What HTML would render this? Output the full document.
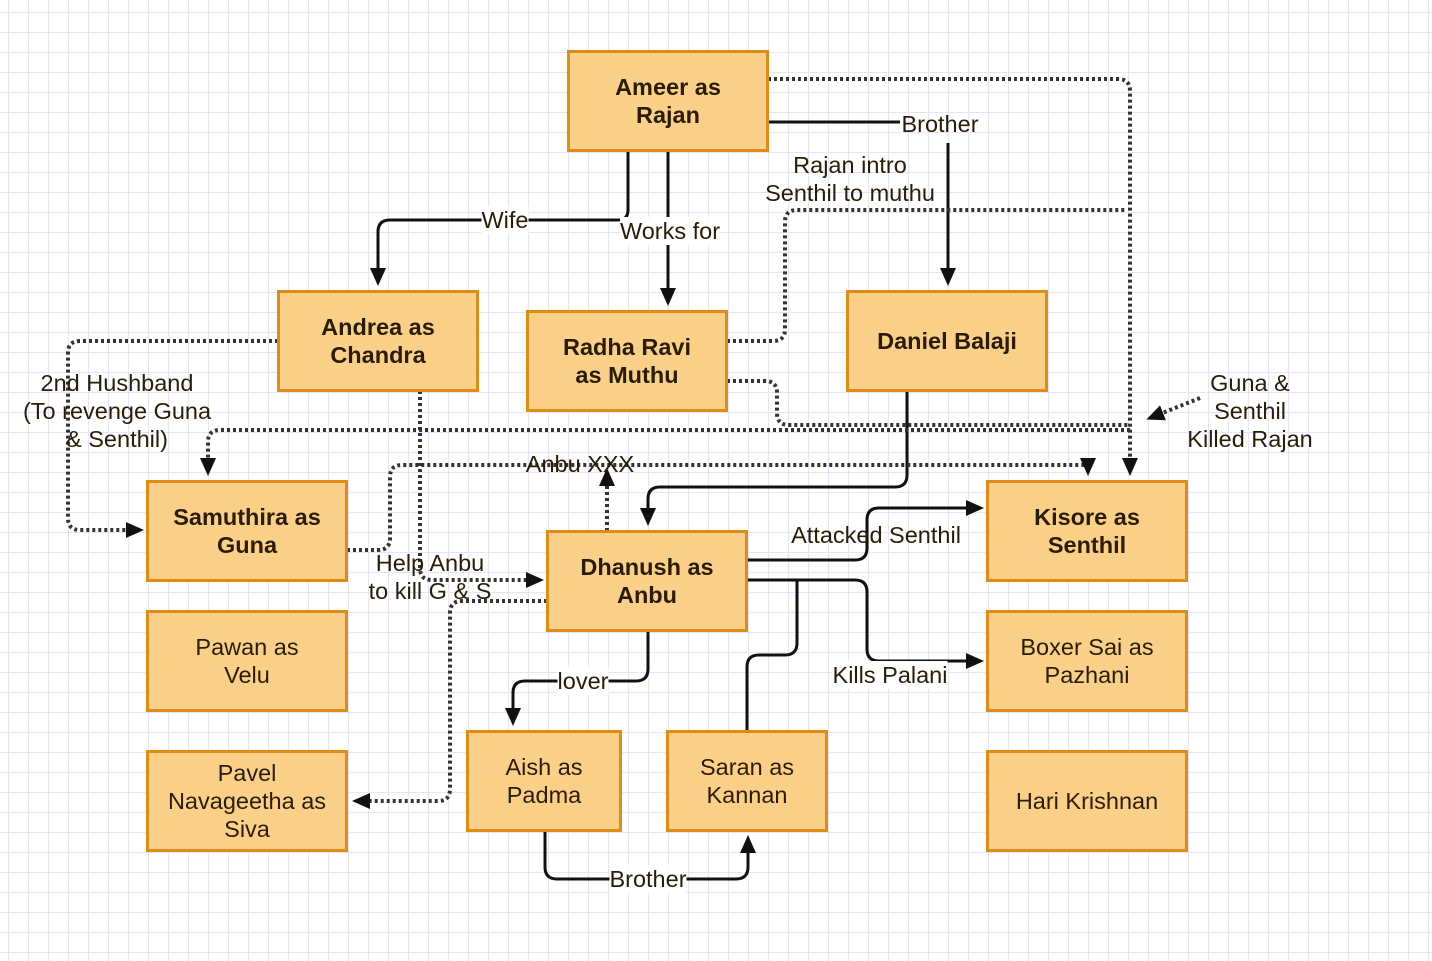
<!DOCTYPE html>
<html><head><meta charset="utf-8"><style>
html,body{margin:0;padding:0;}
body{width:1432px;height:961px;overflow:hidden;background-color:#fff;
background-image:linear-gradient(#e6e4fb 1px,transparent 1px),linear-gradient(90deg,#e6e4fb 1px,transparent 1px);
background-size:20px 20px;background-position:8px 12px;font-family:"Liberation Sans",sans-serif;position:relative;}
.b{position:absolute;box-sizing:border-box;background:#fad089;border:3px solid #e08d17;display:flex;align-items:center;justify-content:center;text-align:center;font-size:23.5px;line-height:28px;color:#2a1c05;}
.bd{font-weight:bold;}
.l{position:absolute;font-size:23.5px;line-height:28px;color:#2a1c05;text-align:center;white-space:nowrap;transform:translate(-50%,-50%);}
.w{background:#fff;}
svg{position:absolute;left:0;top:0;}
</style></head><body>
<svg width="1432" height="961">
<defs><marker id="a" markerWidth="20" markerHeight="18" refX="14" refY="8" orient="auto" markerUnits="userSpaceOnUse"><path d="M0,0 L18,8 L0,16 z" fill="#111" stroke="none"/></marker></defs>
<g fill="none" stroke="#111" stroke-width="3">
<path d="M628 151 V210 Q628 220 618 220 H390 Q378 220 378 232 V282" marker-end="url(#a)"/>
<path d="M668 151 V302" marker-end="url(#a)"/>
<path d="M768 122 H900"/>
<path d="M948 143 V282" marker-end="url(#a)"/>
<path d="M907 391 V475 Q907 487 895 487 H660 Q648 487 648 499 V522" marker-end="url(#a)"/>
<path d="M747 560 H855 Q867 560 867 548 V520 Q867 508 879 508 H980" marker-end="url(#a)"/>
<path d="M747 580 H855 Q867 580 867 592 V649 Q867 661 879 661 H980" marker-end="url(#a)"/>
<path d="M747 731 V667 Q747 655 759 655 H785 Q797 655 797 643 V580"/>
<path d="M648 631 V669 Q648 681 636 681 H525 Q513 681 513 693 V722" marker-end="url(#a)"/>
<path d="M545 831 V867 Q545 879 557 879 H736 Q748 879 748 867 V839" marker-end="url(#a)"/>
</g>
<g fill="none" stroke="#333" stroke-width="4" stroke-dasharray="3 3">
<path d="M768 79 H1118 Q1130 79 1130 91 V472" marker-end="url(#a)"/>
<path d="M727 341 H773 Q785 341 785 329 V222 Q785 210 797 210 H1125"/>
<path d="M727 381 H765 Q777 381 777 393 V413 Q777 425 789 425 H1130"/>
<path d="M278 341 H80 Q68 341 68 353 V518 Q68 530 80 530 H140" marker-end="url(#a)"/>
<path d="M420 391 V568 Q420 580 432 580 H540" marker-end="url(#a)"/>
<path d="M1130 430 H220 Q208 430 208 442 V472" marker-end="url(#a)"/>
<path d="M347 550 H378 Q390 550 390 538 V477 Q390 465 402 465 H1088 V472" marker-end="url(#a)"/>
<path d="M607 531 V472" marker-end="url(#a)"/>
<path d="M1200 398 L1150 418" marker-end="url(#a)"/>
<path d="M547 601 H462 Q450 601 450 613 V789 Q450 801 438 801 H356" marker-end="url(#a)"/>
</g>
</svg>
<div class="b bd" style="left:567px;top:50px;width:202px;height:102px">Ameer as<br>Rajan</div>
<div class="b bd" style="left:277px;top:290px;width:202px;height:102px">Andrea as<br>Chandra</div>
<div class="b bd" style="left:526px;top:310px;width:202px;height:102px">Radha Ravi<br>as Muthu</div>
<div class="b bd" style="left:846px;top:290px;width:202px;height:102px">Daniel Balaji</div>
<div class="b bd" style="left:146px;top:480px;width:202px;height:102px">Samuthira as<br>Guna</div>
<div class="b bd" style="left:546px;top:530px;width:202px;height:102px">Dhanush as<br>Anbu</div>
<div class="b bd" style="left:986px;top:480px;width:202px;height:102px">Kisore as<br>Senthil</div>
<div class="b" style="left:146px;top:610px;width:202px;height:102px">Pawan as<br>Velu</div>
<div class="b" style="left:986px;top:610px;width:202px;height:102px">Boxer Sai as<br>Pazhani</div>
<div class="b" style="left:146px;top:750px;width:202px;height:102px">Pavel<br>Navageetha as<br>Siva</div>
<div class="b" style="left:466px;top:730px;width:156px;height:102px">Aish as<br>Padma</div>
<div class="b" style="left:666px;top:730px;width:162px;height:102px">Saran as<br>Kannan</div>
<div class="b" style="left:986px;top:750px;width:202px;height:102px">Hari Krishnan</div>
<div class="l w" style="left:505px;top:220px">Wife</div>
<div class="l w" style="left:670px;top:231px">Works for</div>
<div class="l" style="left:940px;top:124px">Brother</div>
<div class="l" style="left:850px;top:179px">Rajan intro<br>Senthil to muthu</div>
<div class="l" style="left:117px;top:411px">2nd Hushband<br>(To revenge Guna<br>&amp; Senthil)</div>
<div class="l" style="left:1250px;top:411px">Guna &amp;<br>Senthil<br>Killed Rajan</div>
<div class="l" style="left:580px;top:464px">Anbu XXX</div>
<div class="l" style="left:430px;top:577px">Help Anbu<br>to kill G &amp; S</div>
<div class="l" style="left:876px;top:535px">Attacked Senthil</div>
<div class="l w" style="left:890px;top:675px">Kills Palani</div>
<div class="l w" style="left:583px;top:681px">lover</div>
<div class="l w" style="left:648px;top:879px">Brother</div>
</body></html>
